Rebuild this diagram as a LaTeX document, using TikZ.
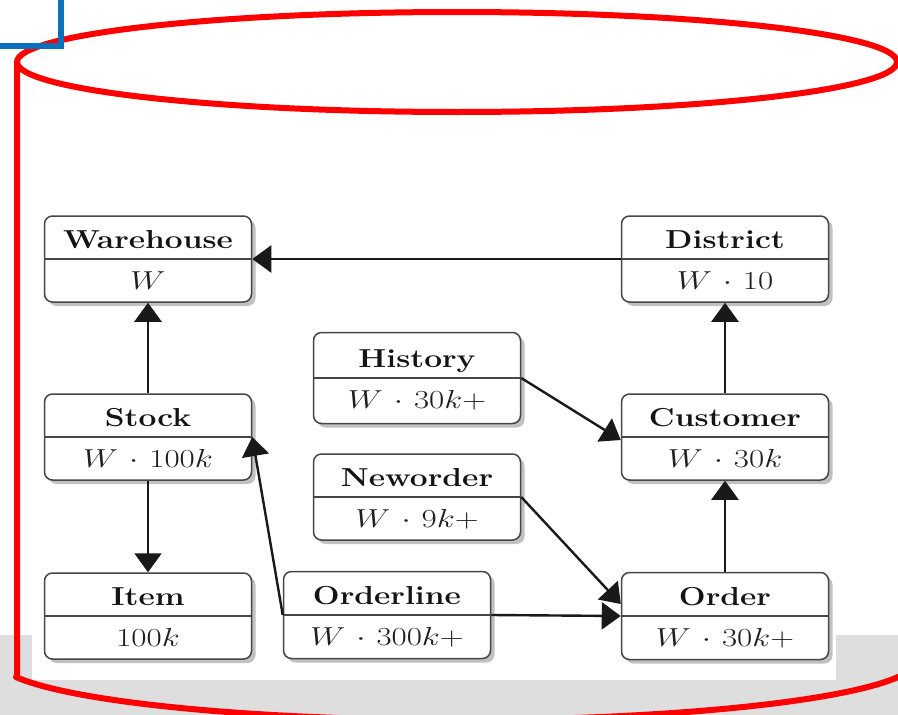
\RequirePackage{fix-cm}
\documentclass[tikz,border=0pt]{standalone}
\usepackage{graphicx}
\usetikzlibrary{arrows.meta,shadows}
\definecolor{cylred}{RGB}{255,0,0}
\definecolor{cornerblue}{RGB}{12,112,188}
\definecolor{bandgray}{RGB}{222,222,222}
\definecolor{boxline}{RGB}{70,70,70}
% one schema table: name, x, y, height, title, cardinality (math)
\newcommand\schemabox[6]{%
  \node[tbl, minimum height=#4pt] (#1) at (#2,#3) {};
  \draw[divider] (#1.west) -- (#1.east);
  \node[ttl] (#1-t) at ([yshift=11pt]#1.center) {\scalebox{1.22}[1]{#5}};
  \node[val] (#1-v) at ([yshift=-30pt]#1.center)
    {\scalebox{1.27}[1]{$\medmuskip=6mu #6$}};
}
\begin{document}
\begin{tikzpicture}[x=1pt,y=-1pt,
  tbl/.style={draw=boxline, line width=1.5pt, rounded corners=8pt, fill=white,
    minimum width=207pt, minimum height=86pt, inner sep=0pt,
    drop shadow={shadow xshift=4pt, shadow yshift=-4pt, fill=black!30, opacity=0.8}},
  ttl/.style={anchor=base, inner sep=0pt, text=black!92,
    font=\fontsize{26}{31}\selectfont\bfseries},
  val/.style={anchor=base, inner sep=0pt, text=black!88,
    font=\fontsize{26}{31}\selectfont},
  divider/.style={draw=boxline, line width=1.5pt},
  link/.style={line width=2.4pt, draw=black!90, -{Triangle[length=19pt,width=27pt]}},
  rim/.style={draw=cylred, line width=6pt, line join=round}
]
\useasboundingbox (0,0) rectangle (898,715);
\clip (0,0) rectangle (898,715);

% background: grey band with the white sheet over it
\fill[bandgray] (0,635) rectangle (898,715);
\fill[white] (32,0) rectangle (836,680);

% cylinder outline
\draw[rim] (457,62) ellipse [x radius=440, y radius=50];
\draw[rim] (17,62) -- (17,675) --
  plot[domain=0:1, samples=80, smooth]
    ({457+460*cos(163.5-155*\x)}, {660+60*sin(163.5-155*\x)});

% tables
\schemabox{wh}{148}{259}{86}{Warehouse}{W}
\schemabox{di}{725}{259}{86}{District}{W\cdot 10}
\schemabox{hi}{417}{378}{91}{History}{W\cdot 30k{+}}
\schemabox{st}{148}{437}{86}{Stock}{W\cdot 100k}
\schemabox{cu}{725}{437}{86}{Customer}{W\cdot 30k}
\schemabox{no}{417}{497}{86}{Neworder}{W\cdot 9k{+}}
\schemabox{it}{148}{616}{86}{Item}{100k}
\schemabox{ol}{387}{615}{87}{Orderline}{W\cdot 300k{+}}
\schemabox{or}{725}{616}{87}{Order}{W\cdot 30k{+}}

% references
\draw[link] (di.west) -- (wh.east);
\draw[link] (st.north) -- (wh.south);
\draw[link] (st.south) -- (it.north);
\draw[link] (cu.north) -- (di.south);
\draw[link] (or.north) -- (cu.south);
\draw[link] (hi.east) -- ([yshift=-3pt]cu.west);
\draw[link] (no.east) -- ([yshift=12pt]or.west);
\draw[link] (ol.east) -- (or.west);
\draw[link] (ol.west) -- (st.east);

% corner mark
\draw[cornerblue, line width=6pt, line join=miter] (0,46) -- (61,46) -- (61,0);
\end{tikzpicture}
\end{document}
